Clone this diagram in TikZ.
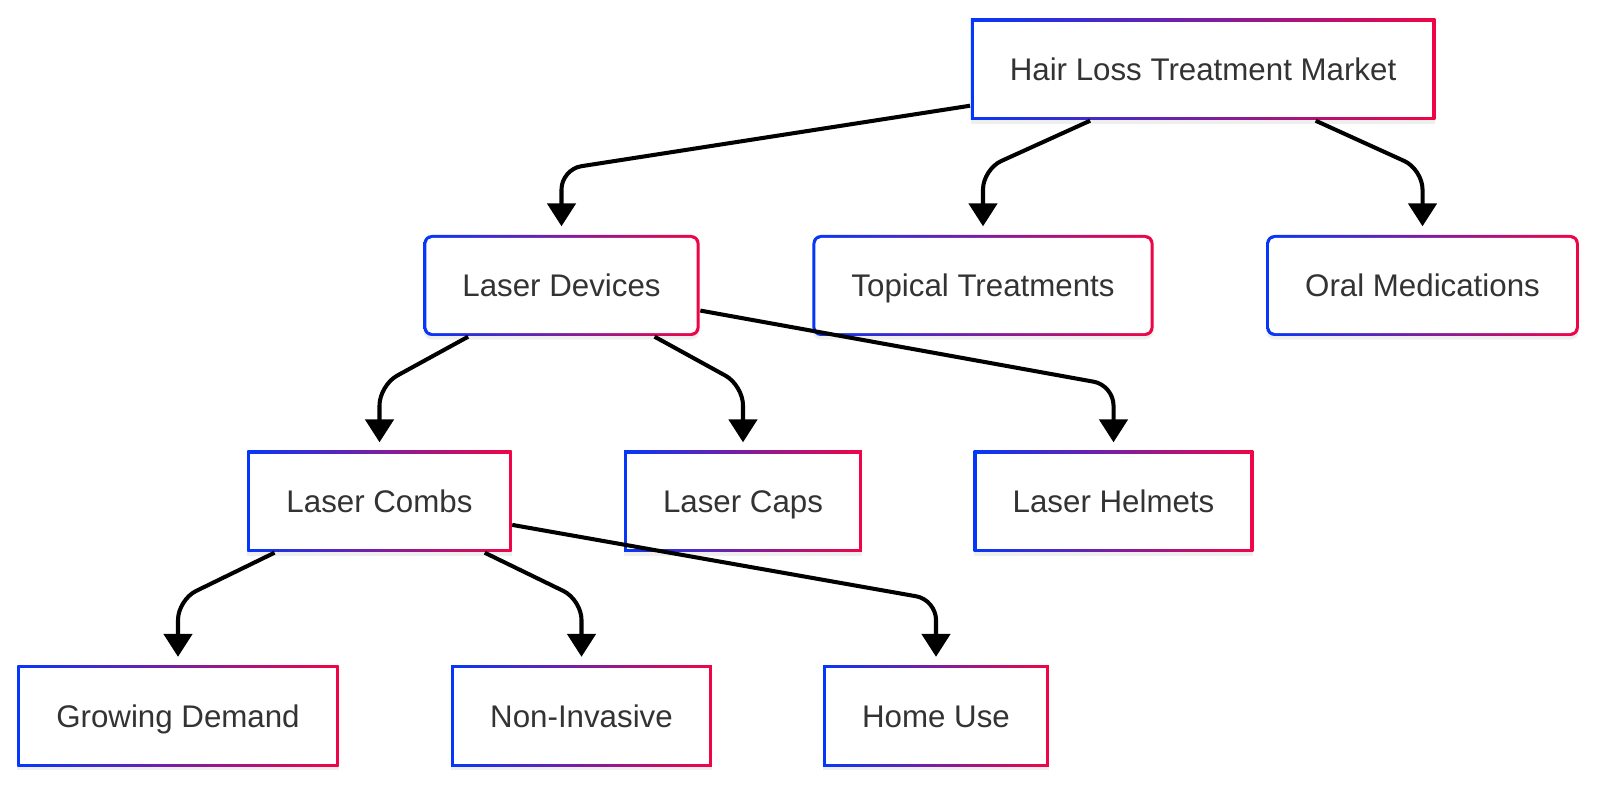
\documentclass[tikz,border=0pt]{standalone}
\usepackage{fontspec}
\setmainfont{Liberation Sans}
\usepackage{xcolor}
\usetikzlibrary{arrows.meta, shadows}
\definecolor{gblue}{RGB}{5,55,250}
\definecolor{gred}{RGB}{240,5,70}
\definecolor{txt}{RGB}{51,51,51}

\begin{document}
\begin{tikzpicture}[
		base/.style={rectangle, minimum height=1.01cm, inner xsep=0.39cm, text=txt,
			text height=6.5pt, text depth=0.2pt,
			font=\fontsize{8.9}{10}\selectfont, left color=gblue, right color=gred,
			drop shadow={opacity=0.12, shadow xshift=0pt, shadow yshift=-1pt}},
		box/.style={base, path picture={\fill[white] ([shift={(0.85pt,0.85pt)}]path picture bounding box.south west) rectangle ([shift={(-0.85pt,-0.85pt)}]path picture bounding box.north east);}},
		rbox/.style={base, rounded corners=2.4pt, path picture={\fill[white, rounded corners=1.6pt] ([shift={(0.85pt,0.85pt)}]path picture bounding box.south west) rectangle ([shift={(-0.85pt,-0.85pt)}]path picture bounding box.north east);}},
		conn/.style={-{Triangle[width=8pt,length=6.5pt]}, line width=1.15pt, rounded corners=0.2cm, shorten >=0.08cm}
	]
		\useasboundingbox[fill=white] (0,0) rectangle (16,-7.89);

		% boxes
		\node[box] (hl) at (12.03,-0.695) {Hair Loss Treatment Market};
		\node[rbox] (ld) at (5.615,-2.855) {Laser Devices};
		\node[rbox] (tt) at (9.83,-2.855) {Topical Treatments};
		\node[rbox] (om) at (14.225,-2.855) {Oral Medications};
		\node[box] (lc) at (3.795,-5.015) {Laser Combs};
		\node[box] (lcap) at (7.43,-5.015) {Laser Caps};
		\node[box] (lh) at (11.135,-5.015) {Laser Helmets};
		\node[box] (gd) at (1.78,-7.16) {Growing Demand};
		\node[box] (ni) at (5.815,-7.16) {Non-Invasive};
		\node[box] (hu) at (9.36,-7.16) {Home Use};

		% links
		\draw[conn] (hl) -- ([yshift=0.65cm]ld.north) -- (ld.north);
		\draw[conn] (hl) -- ([yshift=0.65cm]tt.north) -- (tt.north);
		\draw[conn] (hl) -- ([yshift=0.65cm]om.north) -- (om.north);
		\draw[conn] (ld) -- ([yshift=0.65cm]lc.north) -- (lc.north);
		\draw[conn] (ld) -- ([yshift=0.65cm]lcap.north) -- (lcap.north);
		\draw[conn] (ld) -- ([yshift=0.65cm]lh.north) -- (lh.north);
		\draw[conn] (lc) -- ([yshift=0.65cm]gd.north) -- (gd.north);
		\draw[conn] (lc) -- ([yshift=0.65cm]ni.north) -- (ni.north);
		\draw[conn] (lc) -- ([yshift=0.65cm]hu.north) -- (hu.north);
	\end{tikzpicture}
\end{document}
